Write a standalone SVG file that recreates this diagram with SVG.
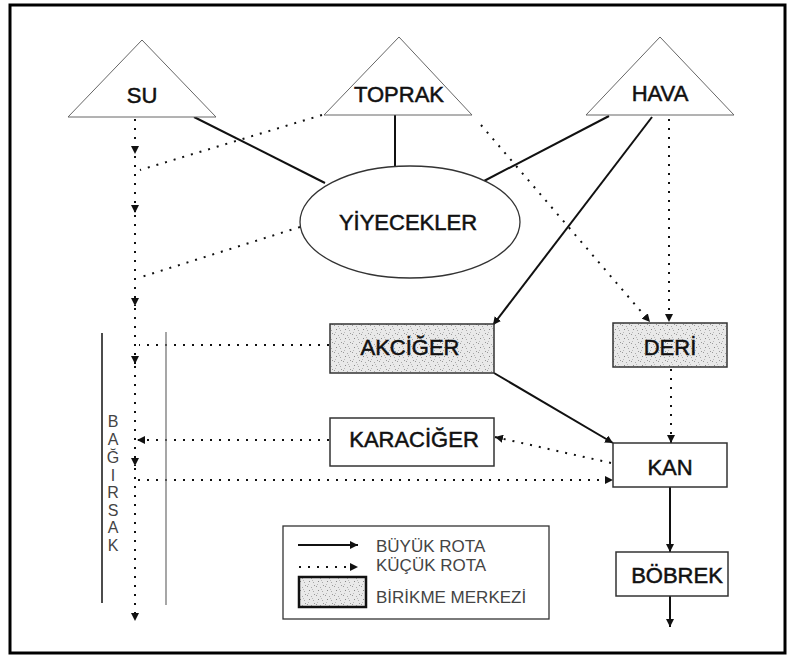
<svg xmlns="http://www.w3.org/2000/svg" width="787" height="660" viewBox="0 0 787 660">
<style>
.t{font-family:"Liberation Sans",Arial,sans-serif;font-size:22px;fill:#111;text-anchor:middle;stroke:#111;stroke-width:0.5}
.lg{font-family:"Liberation Sans",Arial,sans-serif;font-size:17px;fill:#444}
.vt{font-family:"Liberation Sans",Arial,sans-serif;font-size:16px;fill:#444;text-anchor:middle}
.tri{fill:#fff;stroke:#666;stroke-width:1}
.box{stroke:#333;stroke-width:1.5}
.solid{fill:none;stroke:#111;stroke-width:2}
.dot{fill:none;stroke:#111;stroke-width:2;stroke-dasharray:2 7}
</style>
<defs>
<marker id="ah" viewBox="0 0 10 10" refX="10" refY="5" markerWidth="8" markerHeight="8" markerUnits="userSpaceOnUse" orient="auto"><path d="M0,0 L10,5 L0,10 z" fill="#111"/></marker>
<pattern id="stip" width="9" height="9" patternUnits="userSpaceOnUse">
<rect width="9" height="9" fill="#e9e9e9"/>
<rect x="1" y="1" width="1" height="1" fill="#999"/>
<rect x="5" y="2" width="1" height="1" fill="#aaa"/>
<rect x="3" y="5" width="1" height="1" fill="#888"/>
<rect x="7" y="6" width="1" height="1" fill="#aaa"/>
<rect x="2" y="8" width="1" height="1" fill="#bbb"/>
<rect x="6" y="4" width="1" height="1" fill="#bbb"/>
<rect x="8" y="0" width="1" height="1" fill="#999"/>
</pattern>
</defs>
<rect x="0" y="0" width="787" height="660" fill="#fff"/>
<rect x="10" y="5" width="775" height="648" fill="#fff" stroke="#000" stroke-width="3"/>

<g id="connectors">
<path class="solid" d="M194,117 L325,183"/>
<path class="solid" d="M395,115 L395,168"/>
<path class="solid" d="M609,116 L484,181"/>
<path class="solid" d="M652,117 L493,325" marker-end="url(#ah)"/>
<path class="dot" d="M669,119 L669,322" marker-end="url(#ah)"/>
<path class="dot" d="M481,125 L650,322" marker-end="url(#ah)"/>
<path class="dot" d="M322,115 L140,170"/>
<path class="dot" d="M300,227 L138,278"/>
<path class="dot" d="M135,119 L135,154" marker-end="url(#ah)"/>
<path class="dot" d="M135,156 L135,213" marker-end="url(#ah)"/>
<path class="dot" d="M135,215 L135,306" marker-end="url(#ah)"/>
<path class="dot" d="M135,308 L135,364" marker-end="url(#ah)"/>
<path class="dot" d="M135,366 L135,466" marker-end="url(#ah)"/>
<path class="dot" d="M135,468 L135,621" marker-end="url(#ah)"/>
<path class="dot" d="M329,345 L139,345"/>
<path class="dot" d="M329,440 L137,440" marker-end="url(#ah)"/>
<path class="dot" d="M138,480 L613,480" marker-end="url(#ah)"/>
<path class="solid" d="M494,373 L613,443" marker-end="url(#ah)"/>
<path class="dot" d="M671,369 L671,443" marker-end="url(#ah)"/>
<path class="dot" d="M611,463 L495,437" marker-end="url(#ah)"/>
<path class="solid" d="M670,487 L670,552" marker-end="url(#ah)"/>
<path class="solid" d="M670,596 L670,627" marker-end="url(#ah)"/>
</g>

<g id="bagirsak">
<line x1="102" y1="333" x2="102" y2="603" stroke="#111" stroke-width="1.5"/>
<line x1="166" y1="332" x2="166" y2="605" stroke="#777" stroke-width="1.3"/>
<text class="vt" x="113" y="427">B</text>
<text class="vt" x="113" y="445">A</text>
<text class="vt" x="113" y="463">Ğ</text>
<text class="vt" x="113" y="481">I</text>
<text class="vt" x="113" y="498">R</text>
<text class="vt" x="113" y="516">S</text>
<text class="vt" x="113" y="533">A</text>
<text class="vt" x="113" y="551">K</text>
</g>

<g id="su"><polygon class="tri" points="142,40 68,117 216,117"/><text class="t" x="142" y="103">SU</text></g>
<g id="toprak"><polygon class="tri" points="399,37 324,115 472,115"/><text class="t" x="399" y="102">TOPRAK</text></g>
<g id="hava"><polygon class="tri" points="660,37 586,115 734,115"/><text class="t" x="660" y="101">HAVA</text></g>

<g id="yiyecekler"><ellipse cx="410" cy="222" rx="110" ry="56" fill="#fff" stroke="#333" stroke-width="1.3"/><text class="t" x="408" y="230">YİYECEKLER</text></g>

<g id="akciger"><rect class="box" x="330" y="324" width="164" height="49" fill="url(#stip)"/><text class="t" x="410" y="355">AKCİĞER</text></g>
<g id="karaciger"><rect class="box" x="330" y="418" width="164" height="48" fill="#fff"/><text class="t" x="414" y="447">KARACİĞER</text></g>
<g id="deri"><rect class="box" x="613" y="323" width="114" height="44" fill="url(#stip)"/><text class="t" x="670" y="355">DERİ</text></g>
<g id="kan"><rect class="box" x="613" y="443" width="114" height="44" fill="#fff"/><text class="t" x="670" y="475">KAN</text></g>
<g id="bobrek"><rect class="box" x="616" y="552" width="112" height="44" fill="#fff"/><text class="t" x="677" y="583">BÖBREK</text></g>

<g id="legend">
<rect x="283" y="526" width="266" height="93" fill="#fff" stroke="#333" stroke-width="1.3"/>
<path class="solid" d="M298,545 L358,545" marker-end="url(#ah)"/>
<path class="dot" d="M299,567 L358,567" marker-end="url(#ah)"/>
<rect x="299" y="577" width="67" height="30" fill="url(#stip)" stroke="#111" stroke-width="2.5"/>
<text class="lg" x="376" y="552">BÜYÜK ROTA</text>
<text class="lg" x="376" y="571">KÜÇÜK ROTA</text>
<text class="lg" x="376" y="603">BİRİKME MERKEZİ</text>
</g>
</svg>
